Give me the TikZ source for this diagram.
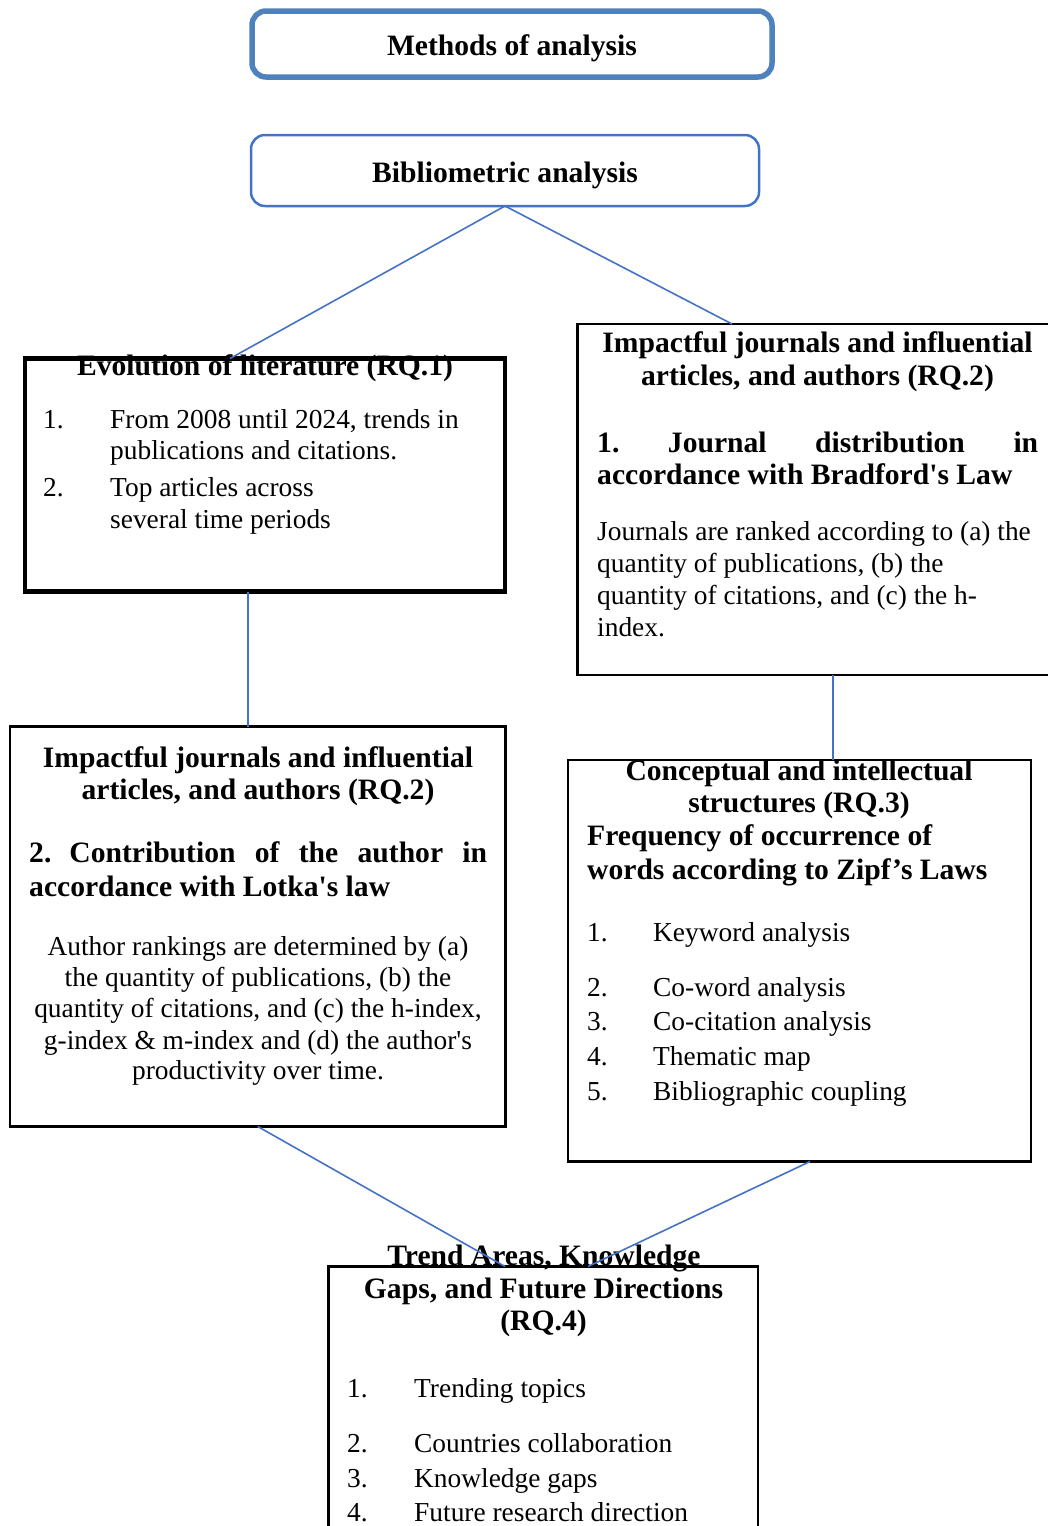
\documentclass[tikz,border=0pt]{standalone}
\usepackage{fontspec}
\setmainfont{Liberation Serif}
\definecolor{methblue}{RGB}{79,129,189}
\definecolor{linkblue}{RGB}{68,114,196}
\begin{document}
\frenchspacing
\begin{tikzpicture}[x=1pt,y=-1pt,
  rbox/.style={draw=linkblue, rounded corners=14pt, fill=white, outer sep=0pt, inner sep=0pt},
  sbox/.style={draw=black, line width=2.5pt, fill=white, outer sep=0pt, inner sep=0pt},
  conn/.style={draw=linkblue, line width=1.6pt},
  txt/.style={inner sep=0pt, font=\fontsize{27.4}{31.5}\selectfont},
  hd/.style={inner sep=0pt, font=\fontsize{29.6}{33.5}\selectfont\bfseries},
  lb/.style={anchor=base west},
  cb/.style={anchor=base}]
\useasboundingbox (0,0) rectangle (1048,1526);
\clip (0,0) rectangle (1048,1526);

% boxes
\node[rbox, line width=5.5pt, draw=methblue, minimum width=520pt, minimum height=66pt] (meth) at (512,44) {};
\node[rbox, line width=2.5pt, minimum width=508pt, minimum height=71pt] (bib) at (505,170.5) {};
\node[sbox, line width=4.5pt, minimum width=480pt, minimum height=233pt] (evo) at (265,475) {};
\node[sbox, minimum width=482.5pt, minimum height=351pt] (rqr) at (818.75,499.5) {};
\node[sbox, minimum width=495.5pt, minimum height=400pt] (rql) at (257.75,926.5) {};
\node[sbox, minimum width=463pt, minimum height=401.5pt] (rq3) at (799.5,960.75) {};
\node[sbox, minimum width=429.5pt, minimum height=293.5pt] (rq4) at (543.25,1413.25) {};

% top texts
\node[hd, cb] (methT) at (512,55) {Methods of analysis};
\node[hd, cb] (bibT) at (505,182) {Bibliometric analysis};

% Evolution
\node[hd, cb] (evoT) at (265,375) {Evolution of literature (RQ.1)};
\node[txt, lb] (evo1n) at (43,428) {1.};
\node[txt, lb] (evo1a) at (110,428) {From 2008 until 2024, trends in};
\node[txt, lb] (evo1b) at (110,459) {publications and citations.};
\node[txt, lb] (evo2n) at (43,496) {2.};
\node[txt, lb] (evo2a) at (110,496) {Top articles across};
\node[txt, lb] (evo2b) at (110,528) {several time periods};

% RQ2 right
\node[hd, cb] (rqrT1) at (817.5,352) {Impactful journals and influential};
\node[hd, cb] (rqrT2) at (817.5,385) {articles, and authors (RQ.2)};
\node[hd, lb] (rqrS1) at (597,452) {\makebox[441pt][s]{1. Journal distribution in}};
\node[hd, lb] (rqrS2) at (597,484) {accordance with Bradford\textquotesingle s Law};
\node[txt, lb] (rqrB1) at (597,540) {Journals are ranked according to (a) the};
\node[txt, lb] (rqrB2) at (597,572) {quantity of publications, (b) the};
\node[txt, lb] (rqrB3) at (597,604) {quantity of citations, and (c) the h-};
\node[txt, lb] (rqrB4) at (597,636) {index.};

% RQ2 left
\node[hd, cb] (rqlT1) at (258,767) {Impactful journals and influential};
\node[hd, cb] (rqlT2) at (258,799) {articles, and authors (RQ.2)};
\node[hd, lb] (rqlS1) at (29,862) {\makebox[458pt][s]{2.\hspace{18pt}Contribution of the author in}};
\node[hd, lb] (rqlS2) at (29,896) {accordance with Lotka\textquotesingle s law};
\node[txt, cb] (rqlB1) at (258,955) {Author rankings are determined by (a)};
\node[txt, cb] (rqlB2) at (258,986) {the quantity of publications, (b) the};
\node[txt, cb] (rqlB3) at (258,1017) {quantity of citations, and (c) the h-index,};
\node[txt, cb] (rqlB4) at (258,1049) {g-index \& m-index and (d) the author\textquotesingle s};
\node[txt, cb] (rqlB5) at (258,1079) {productivity over time.};

% RQ3
\node[hd, cb] (rq3T1) at (799,780) {Conceptual and intellectual};
\node[hd, cb] (rq3T2) at (799,812) {structures (RQ.3)};
\node[hd, lb] (rq3S1) at (587,845) {Frequency of occurrence of};
\node[hd, lb] (rq3S2) at (587,879) {words according to Zipf’s Laws};
\node[txt, lb] (rq3n1) at (587,941) {1.};
\node[txt, lb] (rq3i1) at (653,941) {Keyword analysis};
\node[txt, lb] (rq3n2) at (587,996) {2.};
\node[txt, lb] (rq3i2) at (653,996) {Co-word analysis};
\node[txt, lb] (rq3n3) at (587,1030) {3.};
\node[txt, lb] (rq3i3) at (653,1030) {Co-citation analysis};
\node[txt, lb] (rq3n4) at (587,1065) {4.};
\node[txt, lb] (rq3i4) at (653,1065) {Thematic map};
\node[txt, lb] (rq3n5) at (587,1100) {5.};
\node[txt, lb] (rq3i5) at (653,1100) {Bibliographic coupling};

% RQ4
\node[hd, cb] (rq4T1) at (544,1265) {Trend Areas, Knowledge};
\node[hd, cb] (rq4T2) at (543.5,1298) {Gaps, and Future Directions};
\node[hd, cb] (rq4T3) at (543.5,1330) {(RQ.4)};
\node[txt, lb] (rq4n1) at (347,1397) {1.};
\node[txt, lb] (rq4i1) at (414,1397) {Trending topics};
\node[txt, lb] (rq4n2) at (347,1452) {2.};
\node[txt, lb] (rq4i2) at (414,1452) {Countries collaboration};
\node[txt, lb] (rq4n3) at (347,1487) {3.};
\node[txt, lb] (rq4i3) at (414,1487) {Knowledge gaps};
\node[txt, lb] (rq4n4) at (347,1521) {4.};
\node[txt, lb] (rq4i4) at (414,1521) {Future research direction};

% connectors
\draw[conn] (bib.south) -- ([xshift=-35pt]evo.north);
\draw[conn] (bib.south) -- ([xshift=-86.75pt]rqr.north);
\draw[conn] ([xshift=-17pt]evo.south) -- ([xshift=-9.75pt]rql.north);
\draw[conn] ([xshift=14.25pt]rqr.south) -- ([xshift=33.5pt]rq3.north);
\draw[conn] (rql.south) -- ([xshift=-38.25pt]rq4.north);
\draw[conn] ([xshift=10.5pt]rq3.south) -- ([xshift=44.75pt]rq4.north);
\end{tikzpicture}
\end{document}
